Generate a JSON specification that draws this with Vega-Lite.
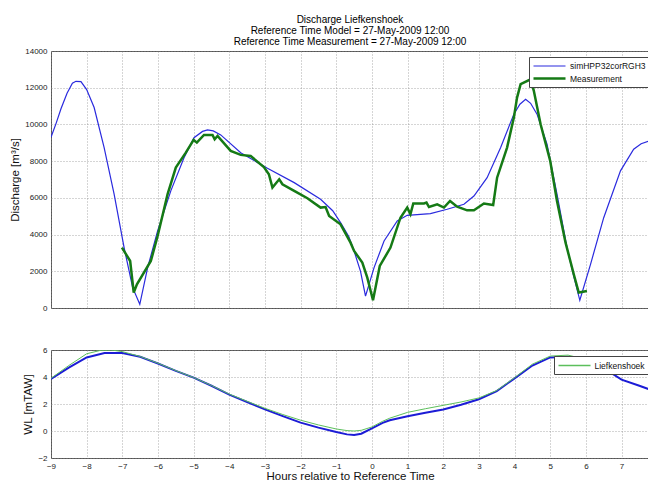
{
  "$schema": "https://vega.github.io/schema/vega-lite/v6.json",
  "background": "white",
  "padding": {"left": 9, "top": 14, "right": 0, "bottom": 0},
  "spacing": 32,
  "resolve": {"scale": {"color": "independent", "strokeWidth": "independent"}, "legend": {"color": "independent", "strokeWidth": "independent"}},
  "datasets": {
    "q": [
      {"h": -9, "v": 9300, "series": "simHPP32corRGH3"},
      {"h": -8.85, "v": 10100, "series": "simHPP32corRGH3"},
      {"h": -8.72, "v": 10850, "series": "simHPP32corRGH3"},
      {"h": -8.55, "v": 11700, "series": "simHPP32corRGH3"},
      {"h": -8.4, "v": 12250, "series": "simHPP32corRGH3"},
      {"h": -8.3, "v": 12350, "series": "simHPP32corRGH3"},
      {"h": -8.16, "v": 12330, "series": "simHPP32corRGH3"},
      {"h": -8.0, "v": 11900, "series": "simHPP32corRGH3"},
      {"h": -7.79, "v": 10920, "series": "simHPP32corRGH3"},
      {"h": -7.51, "v": 8740, "series": "simHPP32corRGH3"},
      {"h": -7.23, "v": 6200, "series": "simHPP32corRGH3"},
      {"h": -6.95, "v": 3290, "series": "simHPP32corRGH3"},
      {"h": -6.71, "v": 1110, "series": "simHPP32corRGH3"},
      {"h": -6.51, "v": 200, "series": "simHPP32corRGH3"},
      {"h": -6.29, "v": 2200, "series": "simHPP32corRGH3"},
      {"h": -6.01, "v": 4200, "series": "simHPP32corRGH3"},
      {"h": -5.64, "v": 6380, "series": "simHPP32corRGH3"},
      {"h": -5.27, "v": 8190, "series": "simHPP32corRGH3"},
      {"h": -4.99, "v": 9280, "series": "simHPP32corRGH3"},
      {"h": -4.75, "v": 9620, "series": "simHPP32corRGH3"},
      {"h": -4.61, "v": 9700, "series": "simHPP32corRGH3"},
      {"h": -4.45, "v": 9650, "series": "simHPP32corRGH3"},
      {"h": -4.24, "v": 9430, "series": "simHPP32corRGH3"},
      {"h": -3.68, "v": 8460, "series": "simHPP32corRGH3"},
      {"h": -2.93, "v": 7610, "series": "simHPP32corRGH3"},
      {"h": -2.18, "v": 6830, "series": "simHPP32corRGH3"},
      {"h": -1.44, "v": 5920, "series": "simHPP32corRGH3"},
      {"h": -1.1, "v": 5300, "series": "simHPP32corRGH3"},
      {"h": -0.88, "v": 4650, "series": "simHPP32corRGH3"},
      {"h": -0.65, "v": 3900, "series": "simHPP32corRGH3"},
      {"h": -0.5, "v": 3100, "series": "simHPP32corRGH3"},
      {"h": -0.32, "v": 2000, "series": "simHPP32corRGH3"},
      {"h": -0.18, "v": 650, "series": "simHPP32corRGH3"},
      {"h": 0.06, "v": 2200, "series": "simHPP32corRGH3"},
      {"h": 0.34, "v": 3650, "series": "simHPP32corRGH3"},
      {"h": 0.71, "v": 4740, "series": "simHPP32corRGH3"},
      {"h": 0.99, "v": 5050, "series": "simHPP32corRGH3"},
      {"h": 1.64, "v": 5140, "series": "simHPP32corRGH3"},
      {"h": 2.11, "v": 5380, "series": "simHPP32corRGH3"},
      {"h": 2.58, "v": 5650, "series": "simHPP32corRGH3"},
      {"h": 2.86, "v": 6100, "series": "simHPP32corRGH3"},
      {"h": 3.23, "v": 7100, "series": "simHPP32corRGH3"},
      {"h": 3.61, "v": 8740, "series": "simHPP32corRGH3"},
      {"h": 3.98, "v": 10560, "series": "simHPP32corRGH3"},
      {"h": 4.15, "v": 11100, "series": "simHPP32corRGH3"},
      {"h": 4.31, "v": 11370, "series": "simHPP32corRGH3"},
      {"h": 4.45, "v": 11150, "series": "simHPP32corRGH3"},
      {"h": 4.63, "v": 10560, "series": "simHPP32corRGH3"},
      {"h": 4.91, "v": 8920, "series": "simHPP32corRGH3"},
      {"h": 5.19, "v": 6200, "series": "simHPP32corRGH3"},
      {"h": 5.47, "v": 3290, "series": "simHPP32corRGH3"},
      {"h": 5.65, "v": 1800, "series": "simHPP32corRGH3"},
      {"h": 5.83, "v": 420, "series": "simHPP32corRGH3"},
      {"h": 6.13, "v": 2380, "series": "simHPP32corRGH3"},
      {"h": 6.5, "v": 4920, "series": "simHPP32corRGH3"},
      {"h": 6.97, "v": 7470, "series": "simHPP32corRGH3"},
      {"h": 7.34, "v": 8650, "series": "simHPP32corRGH3"},
      {"h": 7.55, "v": 8950, "series": "simHPP32corRGH3"},
      {"h": 7.77, "v": 9100, "series": "simHPP32corRGH3"},
      {"h": -7.01, "v": 3290, "series": "Measurement"},
      {"h": -6.78, "v": 2560, "series": "Measurement"},
      {"h": -6.68, "v": 840, "series": "Measurement"},
      {"h": -6.59, "v": 1290, "series": "Measurement"},
      {"h": -6.2, "v": 2560, "series": "Measurement"},
      {"h": -6.01, "v": 3920, "series": "Measurement"},
      {"h": -5.73, "v": 6200, "series": "Measurement"},
      {"h": -5.5, "v": 7650, "series": "Measurement"},
      {"h": -5.22, "v": 8460, "series": "Measurement"},
      {"h": -5.0, "v": 9160, "series": "Measurement"},
      {"h": -4.91, "v": 9010, "series": "Measurement"},
      {"h": -4.71, "v": 9430, "series": "Measurement"},
      {"h": -4.47, "v": 9430, "series": "Measurement"},
      {"h": -4.41, "v": 9190, "series": "Measurement"},
      {"h": -4.33, "v": 9370, "series": "Measurement"},
      {"h": -3.96, "v": 8560, "series": "Measurement"},
      {"h": -3.68, "v": 8340, "series": "Measurement"},
      {"h": -3.4, "v": 8280, "series": "Measurement"},
      {"h": -3.03, "v": 7680, "series": "Measurement"},
      {"h": -2.89, "v": 7290, "series": "Measurement"},
      {"h": -2.79, "v": 6560, "series": "Measurement"},
      {"h": -2.6, "v": 7010, "series": "Measurement"},
      {"h": -2.51, "v": 6740, "series": "Measurement"},
      {"h": -2.18, "v": 6380, "series": "Measurement"},
      {"h": -1.81, "v": 5980, "series": "Measurement"},
      {"h": -1.44, "v": 5470, "series": "Measurement"},
      {"h": -1.3, "v": 5500, "series": "Measurement"},
      {"h": -1.2, "v": 5010, "series": "Measurement"},
      {"h": -0.88, "v": 4560, "series": "Measurement"},
      {"h": -0.6, "v": 3560, "series": "Measurement"},
      {"h": -0.5, "v": 3110, "series": "Measurement"},
      {"h": -0.27, "v": 2470, "series": "Measurement"},
      {"h": -0.13, "v": 1650, "series": "Measurement"},
      {"h": 0.03, "v": 420, "series": "Measurement"},
      {"h": 0.22, "v": 2290, "series": "Measurement"},
      {"h": 0.52, "v": 3290, "series": "Measurement"},
      {"h": 0.8, "v": 4920, "series": "Measurement"},
      {"h": 0.99, "v": 5470, "series": "Measurement"},
      {"h": 1.08, "v": 5110, "series": "Measurement"},
      {"h": 1.16, "v": 5690, "series": "Measurement"},
      {"h": 1.46, "v": 5690, "series": "Measurement"},
      {"h": 1.53, "v": 5740, "series": "Measurement"},
      {"h": 1.6, "v": 5500, "series": "Measurement"},
      {"h": 1.83, "v": 5650, "series": "Measurement"},
      {"h": 2.02, "v": 5470, "series": "Measurement"},
      {"h": 2.19, "v": 5830, "series": "Measurement"},
      {"h": 2.39, "v": 5520, "series": "Measurement"},
      {"h": 2.67, "v": 5320, "series": "Measurement"},
      {"h": 2.86, "v": 5320, "series": "Measurement"},
      {"h": 3.14, "v": 5690, "series": "Measurement"},
      {"h": 3.4, "v": 5610, "series": "Measurement"},
      {"h": 3.51, "v": 7100, "series": "Measurement"},
      {"h": 3.79, "v": 8740, "series": "Measurement"},
      {"h": 3.98, "v": 10370, "series": "Measurement"},
      {"h": 4.07, "v": 11460, "series": "Measurement"},
      {"h": 4.17, "v": 12190, "series": "Measurement"},
      {"h": 4.45, "v": 12460, "series": "Measurement"},
      {"h": 4.54, "v": 11830, "series": "Measurement"},
      {"h": 4.73, "v": 10010, "series": "Measurement"},
      {"h": 5.0, "v": 8010, "series": "Measurement"},
      {"h": 5.19, "v": 5830, "series": "Measurement"},
      {"h": 5.43, "v": 3560, "series": "Measurement"},
      {"h": 5.66, "v": 1840, "series": "Measurement"},
      {"h": 5.8, "v": 840, "series": "Measurement"},
      {"h": 6.03, "v": 930, "series": "Measurement"}
    ],
    "wl_model": [
      {"h": -9, "v": 3.85}, {"h": -8.5, "v": 4.7}, {"h": -8, "v": 5.45}, {"h": -7.5, "v": 5.78},
      {"h": -7, "v": 5.78}, {"h": -6.5, "v": 5.5}, {"h": -6, "v": 5.0}, {"h": -5.5, "v": 4.45},
      {"h": -5, "v": 3.95}, {"h": -4.5, "v": 3.35}, {"h": -4, "v": 2.7}, {"h": -3.5, "v": 2.15},
      {"h": -3, "v": 1.6}, {"h": -2.5, "v": 1.1}, {"h": -2, "v": 0.62}, {"h": -1.5, "v": 0.25},
      {"h": -1, "v": -0.08}, {"h": -0.7, "v": -0.25}, {"h": -0.5, "v": -0.3}, {"h": -0.3, "v": -0.2},
      {"h": 0, "v": 0.2}, {"h": 0.3, "v": 0.6}, {"h": 0.5, "v": 0.8}, {"h": 1, "v": 1.1},
      {"h": 1.5, "v": 1.35}, {"h": 2, "v": 1.6}, {"h": 2.5, "v": 1.95}, {"h": 3, "v": 2.35},
      {"h": 3.5, "v": 2.95}, {"h": 4, "v": 3.9}, {"h": 4.5, "v": 4.85}, {"h": 5, "v": 5.45},
      {"h": 5.5, "v": 5.5}, {"h": 6, "v": 5.1}, {"h": 6.5, "v": 4.65}, {"h": 7, "v": 3.8},
      {"h": 7.5, "v": 3.35}, {"h": 7.77, "v": 3.09}
    ],
    "wl_meas": [
      {"h": -9, "v": 3.9, "series": "Liefkenshoek"}, {"h": -8.5, "v": 4.85, "series": "Liefkenshoek"},
      {"h": -8, "v": 5.72, "series": "Liefkenshoek"}, {"h": -7.6, "v": 5.98, "series": "Liefkenshoek"},
      {"h": -7.3, "v": 6.0, "series": "Liefkenshoek"}, {"h": -7, "v": 5.88, "series": "Liefkenshoek"},
      {"h": -6.5, "v": 5.52, "series": "Liefkenshoek"}, {"h": -6, "v": 5.02, "series": "Liefkenshoek"},
      {"h": -5.5, "v": 4.47, "series": "Liefkenshoek"}, {"h": -5, "v": 3.96, "series": "Liefkenshoek"},
      {"h": -4.5, "v": 3.37, "series": "Liefkenshoek"}, {"h": -4, "v": 2.73, "series": "Liefkenshoek"},
      {"h": -3.5, "v": 2.2, "series": "Liefkenshoek"}, {"h": -3, "v": 1.68, "series": "Liefkenshoek"},
      {"h": -2.5, "v": 1.22, "series": "Liefkenshoek"}, {"h": -2, "v": 0.8, "series": "Liefkenshoek"},
      {"h": -1.5, "v": 0.45, "series": "Liefkenshoek"}, {"h": -1, "v": 0.15, "series": "Liefkenshoek"},
      {"h": -0.7, "v": 0.03, "series": "Liefkenshoek"}, {"h": -0.5, "v": 0.0, "series": "Liefkenshoek"},
      {"h": -0.3, "v": 0.05, "series": "Liefkenshoek"}, {"h": 0, "v": 0.3, "series": "Liefkenshoek"},
      {"h": 0.3, "v": 0.72, "series": "Liefkenshoek"}, {"h": 0.5, "v": 0.95, "series": "Liefkenshoek"},
      {"h": 1, "v": 1.38, "series": "Liefkenshoek"}, {"h": 1.5, "v": 1.65, "series": "Liefkenshoek"},
      {"h": 2, "v": 1.9, "series": "Liefkenshoek"}, {"h": 2.5, "v": 2.15, "series": "Liefkenshoek"},
      {"h": 3, "v": 2.45, "series": "Liefkenshoek"}, {"h": 3.5, "v": 3.0, "series": "Liefkenshoek"},
      {"h": 4, "v": 3.95, "series": "Liefkenshoek"}, {"h": 4.5, "v": 4.95, "series": "Liefkenshoek"},
      {"h": 5, "v": 5.55, "series": "Liefkenshoek"}, {"h": 5.5, "v": 5.62, "series": "Liefkenshoek"},
      {"h": 6, "v": 5.3, "series": "Liefkenshoek"}
    ]
  },
  "vconcat": [
    {
      "width": 598,
      "height": 257,
      "title": {
        "text": ["Discharge Liefkenshoek", "Reference Time Model = 27-May-2009 12:00", "Reference Time Measurement = 27-May-2009 12:00"],
        "fontSize": 10,
        "lineHeight": 11,
        "font": "Liberation Sans",
        "fontWeight": "normal",
        "color": "#000",
        "anchor": "middle",
        "frame": "group",
        "offset": 0
      },
      "data": {"name": "q"},
      "mark": {"type": "line", "clip": true},
      "encoding": {
        "x": {
          "field": "h", "type": "quantitative",
          "scale": {"domain": [-9, 7.77], "nice": false, "zero": false},
          "axis": {"title": null, "labels": false, "labelOverlap": false, "values": [-9, -8, -7, -6, -5, -4, -3, -2, -1, 0, 1, 2, 3, 4, 5, 6, 7]}
        },
        "y": {
          "field": "v", "type": "quantitative",
          "scale": {"domain": [0, 14000], "nice": false},
          "axis": {"title": "Discharge [m³/s]", "labelOverlap": false, "values": [0, 2000, 4000, 6000, 8000, 10000, 12000, 14000], "format": "d"}
        },
        "color": {
          "field": "series", "type": "nominal",
          "scale": {"domain": ["simHPP32corRGH3", "Measurement"], "range": ["#2a2ade", "#157a15"]},
          "legend": {"title": null}
        },
        "strokeWidth": {
          "field": "series", "type": "nominal",
          "scale": {"domain": ["simHPP32corRGH3", "Measurement"], "range": [1.2, 2.5]},
          "legend": {"title": null}
        }
      }
    },
    {
      "width": 598,
      "height": 108,
      "encoding": {
        "x": {
          "field": "h", "type": "quantitative",
          "scale": {"domain": [-9, 7.77], "nice": false, "zero": false},
          "axis": {"title": "Hours relative to Reference Time", "labelOverlap": false, "values": [-9, -8, -7, -6, -5, -4, -3, -2, -1, 0, 1, 2, 3, 4, 5, 6, 7], "titlePadding": 0}
        },
        "y": {
          "field": "v", "type": "quantitative",
          "scale": {"domain": [-2, 6], "nice": false},
          "axis": {"title": "WL [mTAW]", "labelOverlap": false, "values": [-2, 0, 2, 4, 6]}
        }
      },
      "layer": [
        {
          "data": {"name": "wl_model"},
          "mark": {"type": "line", "clip": true, "color": "#1c1cd6", "strokeWidth": 2}
        },
        {
          "data": {"name": "wl_meas"},
          "mark": {"type": "line", "clip": true, "strokeWidth": 1},
          "encoding": {
            "color": {
              "field": "series", "type": "nominal",
              "scale": {"domain": ["Liefkenshoek"], "range": ["#5cbf5c"]},
              "legend": {"title": null, "legendX": 503, "legendY": 6, "padding": 3.5}
            }
          }
        }
      ]
    }
  ],
  "config": {
    "view": {"stroke": "#555", "strokeWidth": 1},
    "axis": {
      "labelFont": "Liberation Sans",
      "titleFont": "Liberation Sans",
      "labelFontSize": 8,
      "titleFontSize": 11.5,
      "titleFontWeight": "normal",
      "labelColor": "#222",
      "titleColor": "#111",
      "grid": true,
      "gridColor": "#888",
      "gridDash": [1, 2],
      "gridOpacity": 0.7,
      "ticks": false,
      "domain": false,
      "labelPadding": 4,
      "titlePadding": 4,
      "labelFlush": false,
      "labelOverlap": false
    },
    "legend": {
      "orient": "none",
      "legendX": 478,
      "legendY": 6,
      "fillColor": "white",
      "strokeColor": "#444",
      "padding": 3,
      "labelFont": "Liberation Sans",
      "labelFontSize": 8.5,
      "labelColor": "#111",
      "symbolType": "M-1,0H5.4",
      "symbolSize": 100,
      "labelOffset": 25,
      "rowPadding": 1,
      "labelLimit": 200
    }
  }
}
